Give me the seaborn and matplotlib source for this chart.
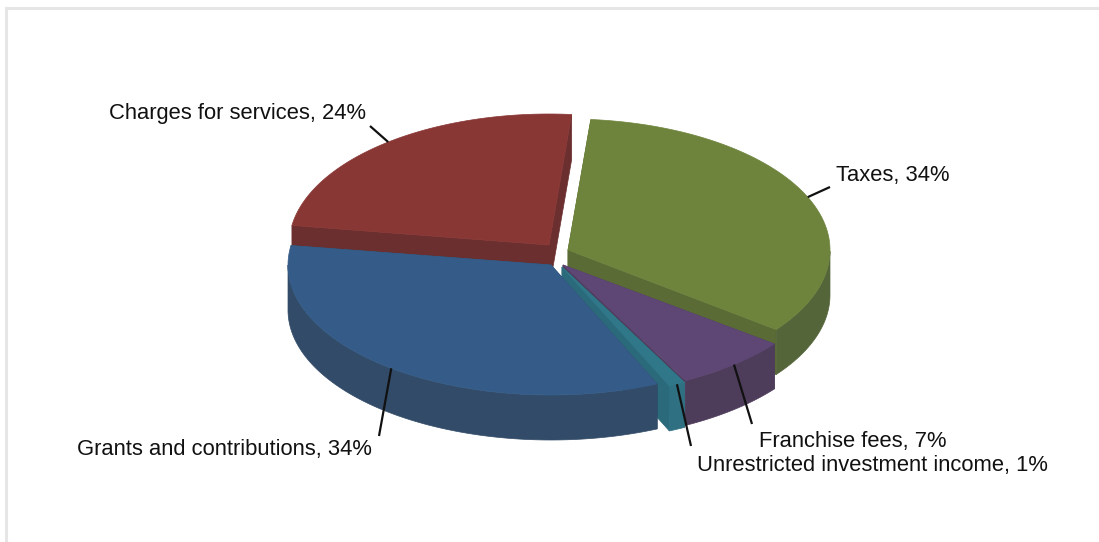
import numpy as np
import matplotlib
matplotlib.use("Agg")
import matplotlib.pyplot as plt
import seaborn as sns

# Revenue shares by source, in percent
categories = ["Taxes", "Franchise fees", "Unrestricted investment income",
              "Grants and contributions", "Charges for services"]
shares = [34, 7, 1, 34, 24]

top_colors = ["#6E843D", "#5E4775", "#30778A", "#355C88", "#893735"]
cut_colors = ["#5A6B36", "#4E3C5B", "#2B6A7A", "#324B68", "#6A2F2E"]
rim_colors = ["#55653A", "#4E3C5B", "#2F7082", "#324B68", "#6A2F2E"]

# Projection of the exploded disc, in pixel units of the canvas
apex_x = [568, 563, 562, 551, 549]
apex_y = [250, 265, 267, 265, 245]
radius_x = [262, 266, 266, 263, 260]
radius_y = [131, 130, 130, 130, 131]
depth = 45
start_angle = 5

# Label anchors and leader ends
label_x = [836, 759, 697, 77, 109]
label_y = [175, 441, 465, 449, 113]
leader_x = [830, 752, 691, 379, 370]
leader_y = [187, 424, 446, 436, 126]

sns.set_theme(style="white")
plt.rcParams["font.family"] = ["Liberation Sans", "DejaVu Sans"]

fig, ax = plt.subplots(figsize=(10.99, 5.42), dpi=100)
ax.set_position([0, 0, 1, 1])
ax.set_xlim(0, 1099)
ax.set_ylim(542, 0)
ax.set_axis_off()

# Thin panel frame on the top and left
frame = sns.color_palette(["#E6E6E6"])[0]
ax.plot([6, 6, 1099], [542, 8, 8], color=frame, lw=2.2, solid_joinstyle="miter")

edges = start_angle + np.cumsum([0] + shares) * 3.6


def rim_point(i, theta):
    t = np.radians(theta)
    return apex_x[i] + radius_x[i] * np.sin(t), apex_y[i] - radius_y[i] * np.cos(t)


def paint(xs, ys, color):
    ax.fill(xs, ys, facecolor=color, edgecolor=color, lw=0.5)


# Back slices first so the nearer ones overlap them
for i in [4, 0, 1, 2, 3]:
    a0, a1 = edges[i], edges[i + 1]
    thetas = np.linspace(a0, a1, 200)
    rx, ry = rim_point(i, thetas)

    for a in (a0, a1):
        cx, cy = rim_point(i, a)
        paint([apex_x[i], apex_x[i], cx, cx],
              [apex_y[i], apex_y[i] + depth, cy + depth, cy], cut_colors[i])

    front = (thetas >= 90) & (thetas <= 270)
    if front.any():
        fx, fy = rx[front], ry[front]
        paint(np.r_[fx, fx[::-1]], np.r_[fy, fy[::-1] + depth], rim_colors[i])

    paint(np.r_[apex_x[i], rx], np.r_[apex_y[i], ry], top_colors[i])

# Leader lines run from the middle of each slice's rim to its label
for i, name in enumerate(categories):
    mid = (edges[i] + edges[i + 1]) / 2
    mx, my = rim_point(i, mid)
    ax.plot([mx, leader_x[i]], [my, leader_y[i]], color="#111111", lw=1.6,
            solid_capstyle="butt")
    ax.text(label_x[i], label_y[i], f"{name}, {shares[i]}%", fontsize=15.8,
            color="#111111", ha="left", va="center")

fig.savefig("out.png", dpi=100)
